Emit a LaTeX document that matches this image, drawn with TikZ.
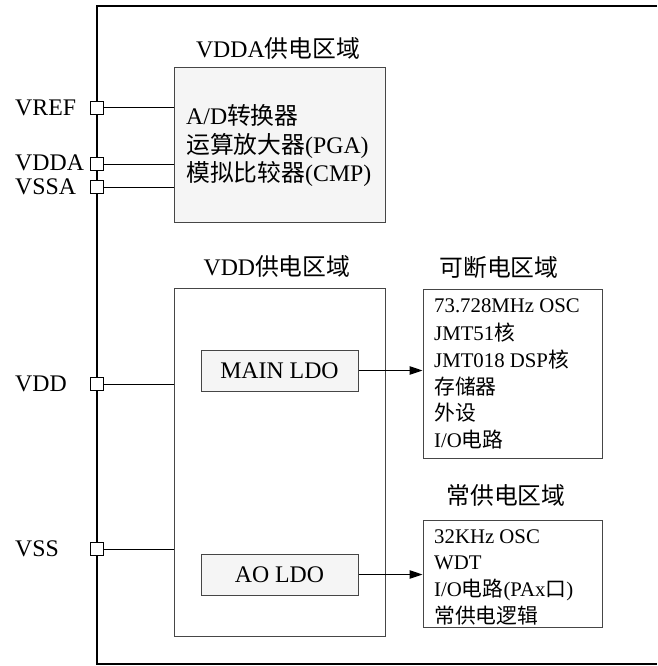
\documentclass[tikz,border=0pt]{standalone}
\usepackage{fontspec}
\setmainfont{Liberation Serif}
\newfontfamily\cjk{Noto Sans CJK SC}
\newcommand\zh[1]{{\cjk #1}}
\usetikzlibrary{arrows.meta}
\definecolor{boxfill}{RGB}{245,245,245}
\definecolor{boxline}{RGB}{70,70,70}
\begin{document}
\begin{tikzpicture}[x=1pt,y=-1pt,
  big/.style={font=\fontsize{23.8}{28}\selectfont},
  small/.style={font=\fontsize{20.8}{26.7}\selectfont},
  pin/.style={draw=black,fill=white,line width=0.8pt,minimum size=12.5pt,inner sep=0pt,rectangle},
  grayblock/.style={draw=boxline,fill=boxfill,line width=1pt,inner sep=0pt,rectangle},
  whiteblock/.style={draw=boxline,fill=white,line width=1pt,inner sep=0pt,rectangle},
  wire/.style={line width=1pt,black},
  arr/.style={line width=1pt,black,-{Triangle[length=13pt,width=8.5pt]}},
  lbl/.style={big,anchor=west,inner sep=0pt},
  ttl/.style={big,inner sep=0pt},
  item/.style={small,anchor=west,inner sep=0pt},
  iteml/.style={big,anchor=west,inner sep=0pt}]
\useasboundingbox (0,0) rectangle (657,666);
% outer frame
\draw[line width=1.3pt] (657,6) -- (97,6) -- (97,664) -- (657,664);

% blocks
\node[grayblock,minimum width=211pt,minimum height=154pt] (vdda) at (279.5,145) {};
\node[whiteblock,minimum width=211pt,minimum height=348pt] (vdd) at (279.5,462) {};
\node[grayblock,minimum width=157pt,minimum height=41pt,big] (main) at (279.5,370.5) {MAIN LDO};
\node[grayblock,minimum width=157pt,minimum height=41pt,big] (ao) at (279.5,574.5) {AO LDO};
\node[whiteblock,minimum width=179pt,minimum height=169pt] (kd) at (512.5,373.5) {};
\node[whiteblock,minimum width=179pt,minimum height=107pt] (cg) at (512.5,573.5) {};

% titles
\node[ttl] (t1) at (278,48) {VDDA\zh{供电区域}};
\node[ttl] (t2) at (277,266) {VDD\zh{供电区域}};
\node[ttl] (t3) at (499,267) {\zh{可断电区域}};
\node[ttl] (t4) at (506,495) {\zh{常供电区域}};

% pins
\node[pin] (pvref) at (97,108) {};
\node[pin] (pvdda) at (97,164) {};
\node[pin] (pvssa) at (97,187) {};
\node[pin] (pvdd) at (97,384) {};
\node[pin] (pvss) at (97,549) {};

\node[lbl] (lvref) at (15,108) {VREF};
\node[lbl] (lvdda) at (15,163) {VDDA};
\node[lbl] (lvssa) at (15,187) {VSSA};
\node[lbl] (lvdd) at (15,384) {VDD};
\node[lbl] (lvss) at (15,549) {VSS};

% pin wires
\draw[wire] (pvref.east) -- (pvref.east -| vdda.west);
\draw[wire] (pvdda.east) -- (pvdda.east -| vdda.west);
\draw[wire] (pvssa.east) -- (pvssa.east -| vdda.west);
\draw[wire] (pvdd.east) -- (pvdd.east -| vdd.west);
\draw[wire] (pvss.east) -- (pvss.east -| vdd.west);

% VDDA contents
\node[iteml] (a1) at (186,115) {A/D\zh{转换器}};
\node[iteml] (a2) at (186,146) {\zh{运算放大器}(PGA)};
\node[iteml] (a3) at (186,174) {\zh{模拟比较器}(CMP)};

% switchable domain contents
\node[item] (k1) at (434,306) {73.728MHz OSC};
\node[item] (k2) at (434,333) {JMT51\zh{核}};
\node[item] (k3) at (434,360) {JMT018 DSP\zh{核}};
\node[item] (k4) at (434,387) {\zh{存储器}};
\node[item] (k5) at (434,413) {\zh{外设}};
\node[item] (k6) at (434,440) {I/O\zh{电路}};

% always-on contents
\node[item] (c1) at (434,537) {32KHz OSC};
\node[item] (c2) at (434,563) {WDT};
\node[item] (c3) at (434,590) {I/O\zh{电路}(PAx\zh{口})};
\node[item] (c4) at (434,616) {\zh{常供电逻辑}};

% arrows
\draw[arr] (main.east) -- (main.east -| kd.west);
\draw[arr] (ao.east) -- (ao.east -| cg.west);
\end{tikzpicture}
\end{document}
